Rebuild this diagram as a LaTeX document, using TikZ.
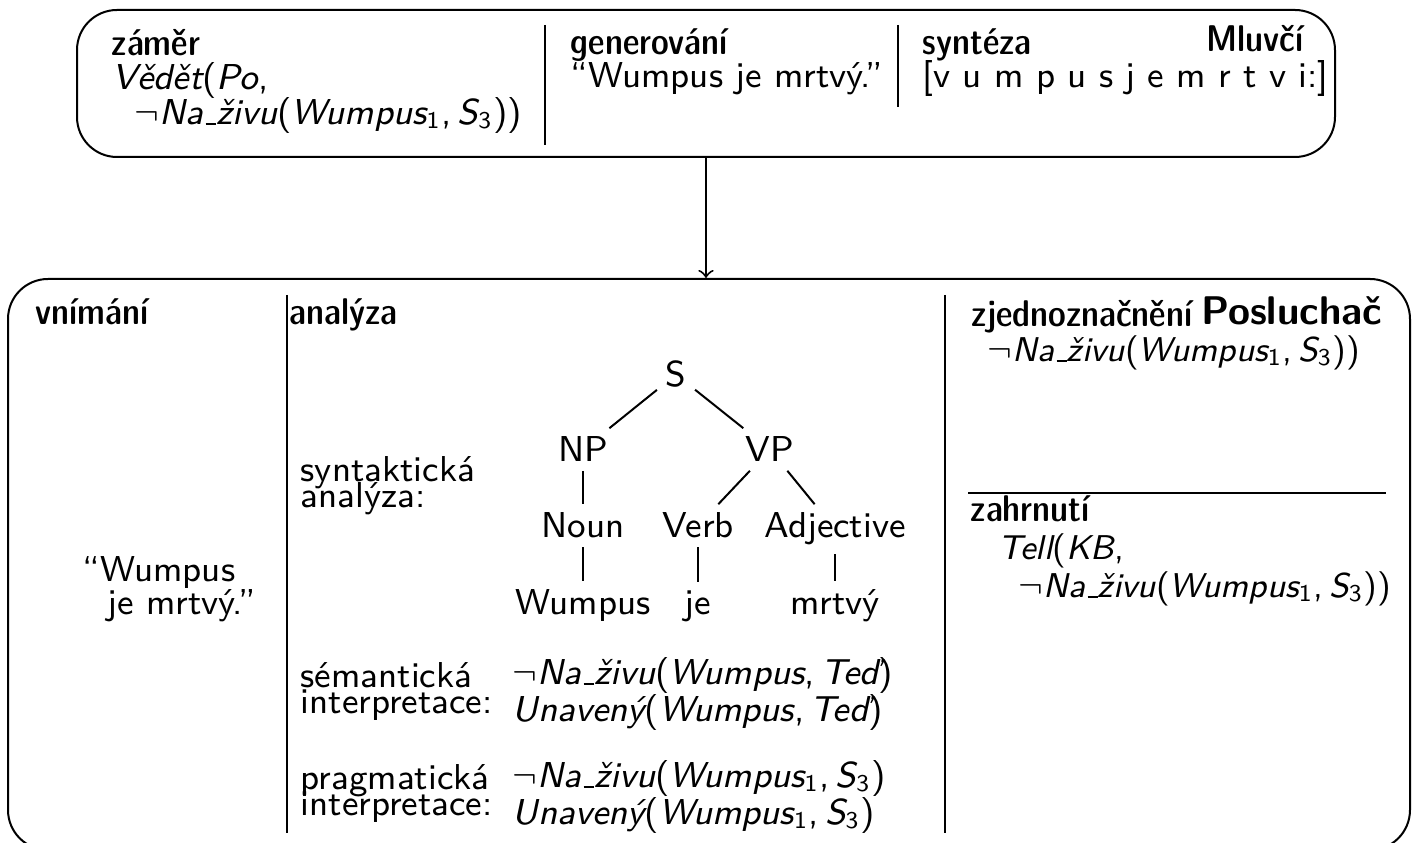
\documentclass[tikz,border=0pt]{standalone}
\usepackage{fontspec}
\newcommand\mi[1]{{\itshape #1}}
\newcommand\usc{\leavevmode\kern.06em\vbox{\hrule width.3em height 0.4pt}}
\newcommand\NaZ{\mi{Na\usc živu}}
\newcommand\Wone{\mi{Wumpus}\textsubscript{1}}
\newcommand\Sthree{\mi{S}\textsubscript{3}}
\newcommand\Ng{$\neg$}
\newcommand\twol[2]{\vtop{\baselineskip=6.5pt\lineskiplimit=-20pt\hbox{#1}\hbox{#2}}}
\newcommand\dcb{\fontseries{sbc}\selectfont}
\begin{document}
\begin{tikzpicture}[x=0.25pt,y=-0.25pt,
  txt/.style={anchor=base west,inner sep=0pt,font=\sffamily\fontsize{9}{10}\selectfont},
  txts/.style={anchor=base west,inner sep=0pt,font=\sffamily\fontsize{8.6}{10}\selectfont},
  hd/.style={txt,font=\sffamily\fontsize{9.3}{10}\selectfont\dcb},
  big/.style={anchor=base east,inner sep=0pt,font=\sffamily\fontsize{9.3}{12}\selectfont\dcb},
  bigx/.style={anchor=base east,inner sep=0pt,font=\sffamily\bfseries\fontsize{10}{12}\selectfont},
  tn/.style={anchor=base,inner sep=2pt,font=\sffamily\fontsize{9}{10}\selectfont},
  sep/.style={line width=0.5pt},
  box/.style={draw,line width=0.5pt,rounded corners=10pt,inner sep=0pt}]
\useasboundingbox (0,0) rectangle (1417,843);
\clip (0,0) rectangle (1417,843);
% boxes
\node[box,minimum width=314.5pt,minimum height=36.75pt] (top) at (706,83.5) {};
\node[box,minimum width=350.5pt,minimum height=142.75pt] (bot) at (709,564.5) {};
\draw[line width=0.5pt,->] (top.south) -- (top.south |- bot.north);
% top box
\node[hd] (zamer) at (111,56) {záměr};
\node[txt] (vedet) at (112,90) {\mi{Vědět}(\mi{Po},};
\node[txt] (nz1) at (134,125) {\Ng\NaZ(\Wone,\,\Sthree))};
\draw[sep] (545,25) -- (545,145);
\node[hd] (gen) at (570,55) {generování};
\node[txt] (wjm) at (570,88) {“Wumpus je mrtvý.”};
\draw[sep] (898,25) -- (898,107);
\node[hd] (synt) at (922,55) {syntéza};
\node[txt] (fon) at (922,88) {[v u m p u s j e m r t v i:]};
\node[big] (mluv) at (1304,52) {Mluvčí};
% bottom box
\node[hd] (vnim) at (35,325) {vnímání};
\node[txt] (w1) at (82,582) {“Wumpus};
\node[txt] (w2) at (107,615) {je mrtvý.”};
\draw[sep] (287,295) -- (287,833);
\node[hd] (anal) at (289,325) {analýza};
\node[txt] (sa) at (300,482) {\twol{syntaktická}{analýza:}};
\node[tn] (S) at (676,387) {S};
\node[tn] (NP) at (583,462) {NP};
\node[tn] (VP) at (770,462) {VP};
\node[tn] (Noun) at (583,538) {Noun};
\node[tn] (Verb) at (698,538) {Verb};
\node[tn] (Adj) at (835,538) {Adjective};
\node[tn] (wW) at (583,615) {Wumpus};
\node[tn] (wje) at (698,615) {je};
\node[tn] (wm) at (835,615) {mrtvý};
\draw[sep] (S) -- (NP);
\draw[sep] (S) -- (VP);
\draw[sep] (NP) -- (Noun);
\draw[sep] (VP) -- (Verb);
\draw[sep] (VP) -- (Adj);
\draw[sep] (Noun) -- (wW);
\draw[sep] (Verb) -- (wje);
\draw[sep] (Adj) -- (wm);
\node[txt] (si) at (300,688) {\twol{sémantická}{interpretace:}};
\node[txt] (sf1) at (512,685) {\Ng\NaZ(\mi{Wumpus},\,\mi{Teď})};
\node[txt] (sf2) at (512,722) {\mi{Unavený}(\mi{Wumpus},\,\mi{Teď})};
\node[txt] (pi) at (300,790) {\twol{pragmatická}{interpretace:}};
\node[txt] (pf1) at (512,788) {\Ng\NaZ(\Wone,\,\Sthree)};
\node[txt] (pf2) at (512,825) {\mi{Unavený}(\Wone,\,\Sthree)};
\draw[sep] (945,295) -- (945,833);
\node[hd] (zjed) at (971,327) {zjednoznačnění};
\node[bigx] (posl) at (1383,325) {Posluchač};
\node[txts] (zf) at (987,362) {\Ng\NaZ(\Wone,\,\Sthree))};
\draw[sep] (968,493) -- (1386,493);
\node[hd] (zahr) at (970,522) {zahrnutí};
\node[txts] (tell) at (998,560) {\mi{Tell}(\mi{KB},};
\node[txts] (tf) at (1018,598) {\Ng\NaZ(\Wone,\,\Sthree))};
\end{tikzpicture}
\end{document}
